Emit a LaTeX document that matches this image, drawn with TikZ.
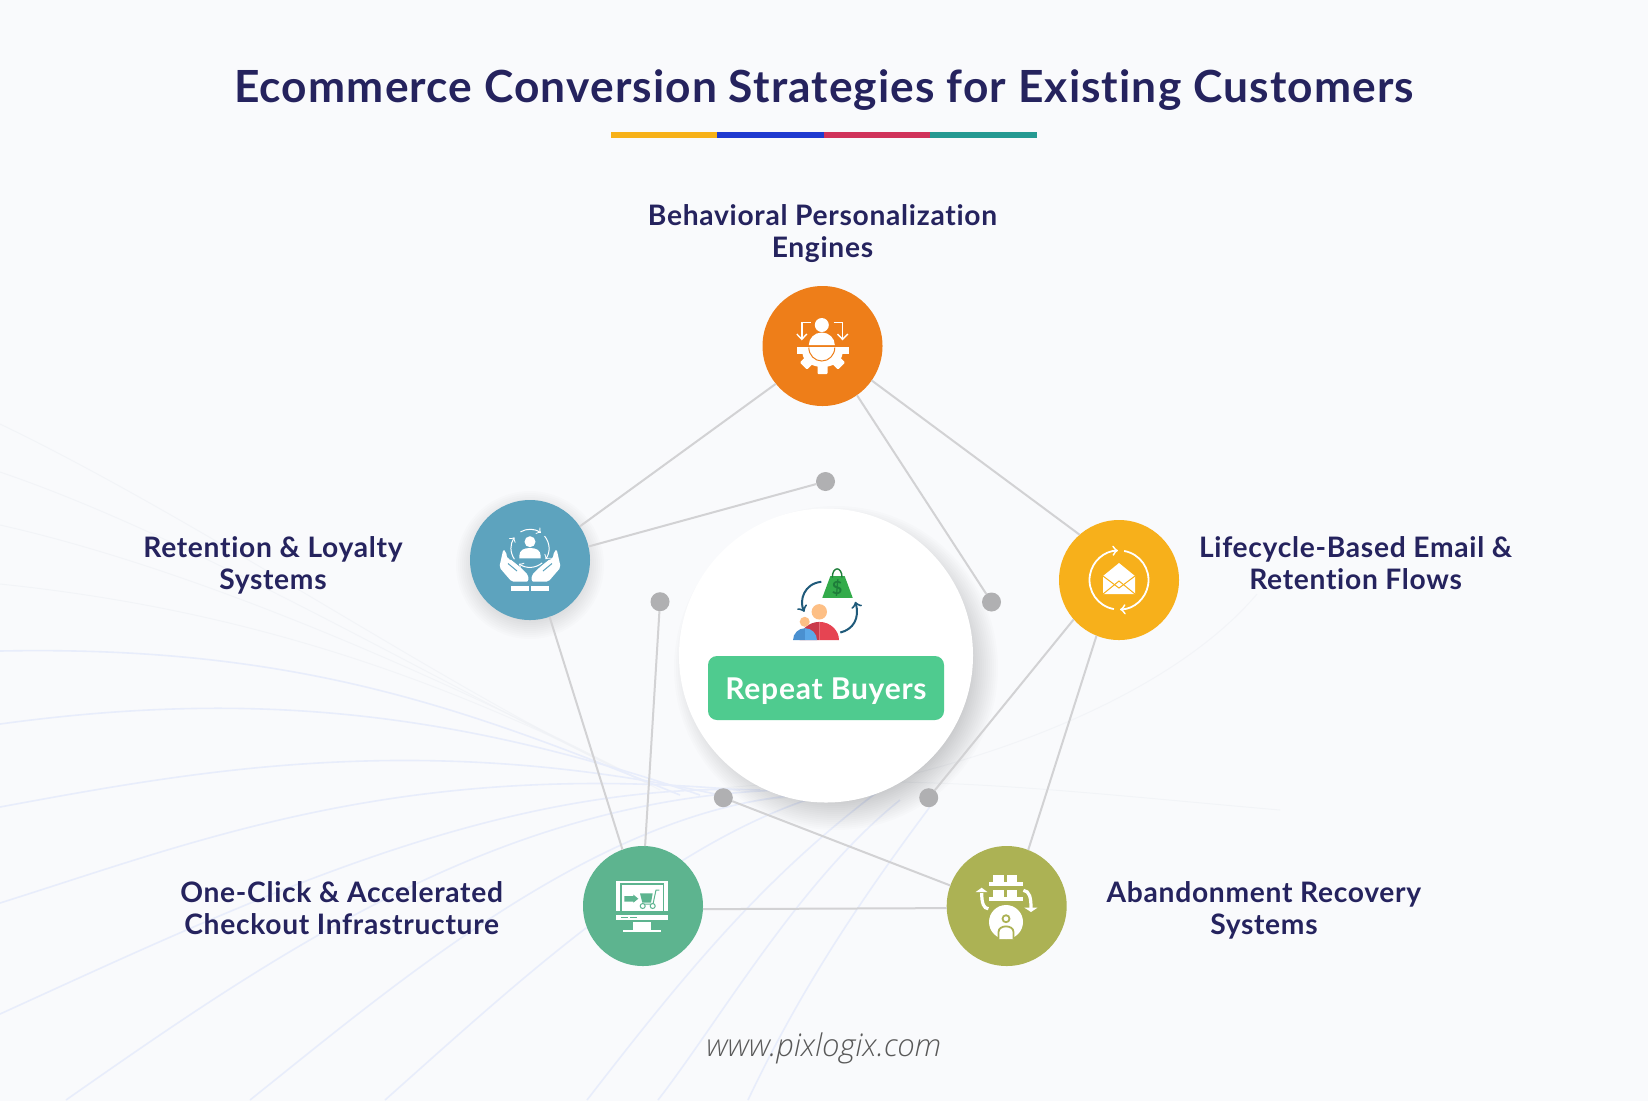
\documentclass[tikz,border=0pt]{standalone}
\usepackage{fontspec}
\setmainfont{Lato}[LetterSpace=2.5, Ligatures=NoCommon]
\newfontfamily\webfont{Open Sans Light}
\usetikzlibrary{arrows,shapes,positioning}

\definecolor{pagebg}{HTML}{F9FAFC}
\definecolor{navy}{HTML}{25235E}
\definecolor{curveblue}{HTML}{E8EDFB}
\definecolor{curvegray}{HTML}{F0F2F6}
\definecolor{linkgray}{HTML}{D2D2D4}
\definecolor{dotgray}{HTML}{B0B0B2}
\definecolor{discorange}{HTML}{EE7E19}
\definecolor{discblue}{HTML}{5DA3BE}
\definecolor{discyellow}{HTML}{F7B01B}
\definecolor{discgreen}{HTML}{5DB48F}
\definecolor{discolive}{HTML}{ACB254}
\definecolor{buttongreen}{HTML}{4FCB8F}
\definecolor{barA}{HTML}{F7B118}
\definecolor{barB}{HTML}{1F3AD0}
\definecolor{barC}{HTML}{D0325A}
\definecolor{barD}{HTML}{259A92}
\definecolor{arrowblue}{HTML}{1F5A7A}
\definecolor{bagdark}{HTML}{1E7D3A}
\definecolor{baggreen}{HTML}{33AB4A}
\definecolor{peach}{HTML}{FDBF85}
\definecolor{redlight}{HTML}{E64452}
\definecolor{reddark}{HTML}{C93A4A}
\definecolor{kidlight}{HTML}{5BA8E8}
\definecolor{kiddark}{HTML}{4A90D0}

\begin{document}
\begin{tikzpicture}[
        x=.5pt,y=-.5pt,
        every node/.style={inner sep=0pt, outer sep=0pt},
        disc/.style={circle, minimum size=60pt},
        dotmark/.style={circle, fill=dotgray, minimum size=9.5pt},
        link/.style={draw=linkgray, line width=1pt},
        label/.style={text=navy, align=center, font=\fontsize{14.1}{16}\selectfont\bfseries},
        iconfill/.style={fill=white, draw=none},
        iconline/.style={draw=white, line width=.5pt},
        bgcurve/.style={draw=curveblue, line width=.8pt},
        bgfaint/.style={draw=curvegray, line width=.5pt, opacity=.7}
    ]

  % Background
  \useasboundingbox (0,0) rectangle (1648,1100);
  \fill[pagebg] (-4,-4) rectangle (1652,1104);
  \foreach \ax/\ay/\bx/\by/\cx/\cy/\dx/\dy in {
      0/424/200/520/450/690/620/770, 0/472/200/540/450/690/640/780,
      0/525/200/570/450/680/650/785, 0/584/250/610/450/680/660/790,
      760/800/900/790/1150/720/1257/594, 700/790/900/770/1050/790/1280/810}
    \draw[bgfaint] (\ax,\ay) .. controls (\bx,\by) and (\cx,\cy) .. (\dx,\dy);
  \foreach \ax/\ay/\bx/\by/\cx/\cy/\dx/\dy in {
      0/651/300/645/470/710/680/795, 0/724/250/690/450/710/700/795,
      0/807/200/770/420/730/720/795, 0/903/200/840/400/760/740/790,
      0/1014/250/900/500/780/760/790, 66/1100/280/950/500/800/780/790,
      250/1100/400/980/600/810/800/795, 385/1100/520/980/680/830/840/790,
      587/1100/680/980/760/880/880/790, 658/1100/720/1020/800/880/900/800,
      748/1100/800/990/860/900/935/800}
    \draw[bgcurve] (\ax,\ay) .. controls (\bx,\by) and (\cx,\cy) .. (\dx,\dy);

  % Shadows
  \foreach \r in {130,132,...,162}
    \fill[black, opacity=.01] (836,668) circle[radius=\r];
  \foreach \r in {52,54,...,74}
    \fill[black, opacity=.013] (530,565) circle[radius=\r];

  % Nodes
  \node (title) at (824,90) [text=navy, font=\fontsize{22.15}{24}\selectfont\bfseries] {Ecommerce Conversion Strategies for Existing Customers};
  \foreach \i/\c in {0/barA,1/barB,2/barC,3/barD}
    \fill[\c] (611+\i*106.4,131.7) rectangle +(106.4,6.6);

  \node (hub) [circle, fill=white, minimum size=147pt] at (826,655.5) {};
  \node (orange) [disc, fill=discorange, above=51.25pt of hub, xshift=-1.75pt] {};
  \node (blue) [disc, fill=discblue, left=44.5pt of hub, yshift=47.75pt] {};
  \node (yellow) [disc, fill=discyellow, right=43pt of hub, yshift=37.75pt] {};
  \node (green) [disc, fill=discgreen, below=21.75pt of hub, xshift=-91.5pt] {};
  \node (olive) [disc, fill=discolive, below=21.75pt of hub, xshift=90.35pt] {};

  \node (dottop) [dotmark] at (825.5,481.5) {};
  \node (dotright) [dotmark] at (991.5,602) {};
  \node (dotlow) [dotmark] at (928.7,797.7) {};
  \node (dotbase) [dotmark] at (723.3,797.7) {};
  \node (dotleft) [dotmark] at (660,601.7) {};

  \node (button) [rounded corners=4.5pt, fill=buttongreen, minimum width=118pt, minimum height=32pt,
    text height=11.6pt, text depth=0pt, text=white, font=\fontsize{15}{18}\selectfont\bfseries] at (826,688) {Repeat Buyers};

  \node (labtop) [label, above=11.5pt of orange] {Behavioral Personalization\\Engines};
  \node (labblue) [label, left=33.7pt of blue, yshift=-2.5pt] {Retention \& Loyalty\\Systems};
  \node (labyellow) [label, right=10pt of yellow, yshift=8.5pt] {Lifecycle-Based Email \&\\Retention Flows};
  \node (labgreen) [label, left=40pt of green, yshift=-1.3pt] {One-Click \& Accelerated\\Checkout Infrastructure};
  \node (labolive) [label, right=20pt of olive, yshift=-2.3pt] {Abandonment Recovery\\Systems};

  \node (web) at (824,1048) [text=black!65, font=\fontsize{15.6}{17}\selectfont\webfont\itshape] {www.pixlogix.com};

  % Connectors
  \draw[link] (orange.219.5) -- (blue.34.4);
  \draw[link] (blue.13.6) -- (dottop);
  \draw[link] (orange.-55.3) -- (dotright);
  \draw[link] (orange.-35.8) -- (yellow.131);
  \draw[link] (yellow.221.9) -- (dotlow);
  \draw[link] (yellow.248) -- (olive.69);
  \draw[link] (olive.160.2) -- (dotbase);
  \draw[link] (olive.182.5) -- (green.-3.2);
  \draw[link] (green.88.4) -- (dotleft);
  \draw[link] (green.110.5) -- (blue.-71.7);

  % Centre picture
  \begin{scope}[shift={(hub)}]
    \fill[baggreen] (4.3,-79.3) -- (18.7,-79.3) -- (26.7,-57.7) -- (-3.7,-57.7) -- cycle;
    \draw[bagdark, line width=.7pt] (6.3,-78) .. controls (6.3,-89.5) and (16,-89.5) .. (16,-78);
    \node (dollar) at (11,-67.5) [text=bagdark, font=\fontsize{9}{9}\selectfont\bfseries] {\$};
    \draw[arrowblue, line width=1pt, ->] (-4.7,-73.7) .. controls (-22,-72) and (-27,-55) .. (-21.7,-43.7);
    \draw[arrowblue, line width=1pt, ->] (14.3,-23) .. controls (27,-26) and (34,-37) .. (29.3,-53.7);
    \fill[peach] (-6.7,-43.7) circle[radius=7.7];
    \fill[reddark] (-6.7,-15.3) -- (-26.4,-15.3) arc[start angle=180, end angle=270, x radius=19.7, y radius=18.3] -- cycle;
    \fill[redlight] (-6.7,-15.3) -- (13,-15.3) arc[start angle=0, end angle=-90, x radius=19.7, y radius=18.3] -- cycle;
    \fill[peach] (-21.3,-33.7) circle[radius=5];
    \fill[kiddark] (-21,-15.3) -- (-33,-15.3) arc[start angle=180, end angle=270, radius=12] -- cycle;
    \fill[kidlight] (-21,-15.3) -- (-9,-15.3) arc[start angle=0, end angle=-90, radius=12] -- cycle;
  \end{scope}

  % Orange icon
  \begin{scope}[shift={(orange)}]
    \fill[iconfill] (-.7,-21) circle[radius=7];
    \fill[iconfill] (-13.7,-1) arc[start angle=180, end angle=360, x radius=13, y radius=12.5] -- cycle;
    \fill[iconfill] (-26,1.3) rectangle (26,7.5);
    \fill[iconfill] (-20,7) arc[start angle=180, end angle=0, x radius=20, y radius=14] -- cycle;
    \foreach \a in {-45,-90,-135}
      \fill[iconfill, shift={(0,1)}, rotate=\a, rounded corners=.5pt] (14,-5) rectangle (27,5);
    \draw[discorange, fill=white, line width=.5pt] (-13.7,1.5) arc[start angle=180, end angle=0, x radius=13, y radius=13.5];
    \draw[iconline, line width=.7pt] (-11.7,-23.3) -- (-20.7,-23.3) -- (-20.7,-7);
    \draw[iconline, line width=.7pt] (-25.7,-12) -- (-20.7,-6.7) -- (-15.7,-12);
    \draw[iconline, line width=.7pt] (11,-23.3) -- (20,-23.3) -- (20,-7);
    \draw[iconline, line width=.7pt] (15,-12) -- (20,-6.7) -- (25.3,-12);
  \end{scope}

  % Blue icon
  \begin{scope}[shift={(blue)}]
    \foreach \s in {1,-1} {
      \fill[iconfill, xscale=\s, rounded corners=1pt] (-26.7,-10.7) -- (-30.7,7.3) -- (-18.3,21.7) -- (-1.7,21.7) -- (-1.7,15) -- (-10,7) -- (-20,-1) -- (-22.7,-1) -- (-24,-8.3) -- cycle;
      \draw[discblue, xscale=\s, line width=.5pt] (-22,3.5) -- (-13,11);
      \fill[iconfill, xscale=\s] (-18.7,26) rectangle (-1.3,30.7);
    }
    \fill[iconfill] (0,-18.3) circle[radius=5.5];
    \fill[iconfill] (-10.7,-1.7) -- (-10.7,-4) .. controls (-10.7,-10) and (-6,-12) .. (0,-12) .. controls (6,-12) and (10.7,-10) .. (10.7,-4) -- (10.7,-1.7) -- cycle;
    \foreach \a/\b in {240/305,320/395,50/125,145/215}
      \draw[iconline, ->, shift={(0,-11.7)}] (\a:19) arc[start angle=\a, end angle=\b, radius=19];
  \end{scope}

  % Yellow icon
  \begin{scope}[shift={(yellow)}]
    \draw[iconline, line width=.9pt, ->] (100:29.5) arc[start angle=100, end angle=268, radius=29.5];
    \draw[iconline, line width=.9pt, ->] (280:29.5) arc[start angle=280, end angle=448, radius=29.5];
    \fill[iconfill] (0,-17) -- (16,-4) -- (16,14) -- (-16,14) -- (-16,-4) -- cycle;
    \draw[discyellow, line width=.5pt] (-16,-4) -- (0,8) -- (16,-4);
    \draw[discyellow, line width=.5pt] (-16,14) -- (0,1) -- (16,14);
  \end{scope}

  % Green icon
  \begin{scope}[shift={(green)}]
    \fill[iconfill] (-26.7,-25.3) rectangle (24.7,5);
    \draw[discgreen, line width=.6pt] (-22,5) -- (-22,-22) -- (20.3,-22) -- (20.3,5);
    \fill[discgreen] (-26.7,5) rectangle (24.7,9);
    \fill[iconfill] (-26.7,9) rectangle (24.7,14);
    \draw[discgreen, line width=.5pt] (-22,11.3) -- (-15,11.3) (-13,11.3) -- (-6.5,11.3);
    \fill[iconfill] (-9.7,15.5) rectangle (8,24);
    \fill[iconfill] (-19.7,24) rectangle (17.7,26);
    \fill[discgreen] (-18.7,-10) -- (-9.7,-10) -- (-9.7,-11.5) -- (-4.7,-7.3) -- (-9.7,-3.3) -- (-9.7,-4.5) -- (-18.7,-4.5) -- cycle;
    \fill[discgreen] (-3,-12.7) -- (9.7,-12.7) -- (8,-3.3) -- (-.7,-3.3) -- cycle;
    \draw[discgreen, line width=.5pt] (16.3,-16) -- (13,-16) -- (10,-2) -- (-1,-2);
    \draw[discgreen, fill=white, line width=.5pt] (-.3,0) circle[radius=2.5] (9.7,0) circle[radius=2.5];
  \end{scope}

  % Olive icon
  \begin{scope}[shift={(olive)}]
    \foreach \y in {-31.3,-16.3} {
      \fill[iconfill] (-13.3,\y) rectangle (-2.7,\y+7.3);
      \fill[iconfill] (0,\y) rectangle (10.7,\y+7.3);
      \fill[iconfill] (-17.7,\y+7.3) rectangle (16.7,\y+11);
    }
    \draw[iconline, line width=1.6pt] (-18.3,2.7) .. controls (-23,2.7) and (-25,-3) .. (-25,-13);
    \fill[iconfill] (-31,-14) -- (-25,-18.3) -- (-19.3,-14) -- cycle;
    \draw[iconline, line width=1.6pt] (16.7,-15.7) .. controls (23,-15) and (24.3,-8) .. (24.3,2);
    \fill[iconfill] (17.7,1.7) -- (24.3,6) -- (30.7,1.7) -- cycle;
    \fill[iconfill] (-.7,16) circle[radius=17];
    \draw[discolive, fill=white, line width=.9pt] (-.7,12.7) circle[radius=3.5];
    \draw[discolive, fill=white, line width=.9pt] (-8.2,33) -- (-8.2,26) .. controls (-8.2,18.5) and (6.8,18.5) .. (6.8,26) -- (6.8,33);
  \end{scope}
\end{tikzpicture}
\end{document}
